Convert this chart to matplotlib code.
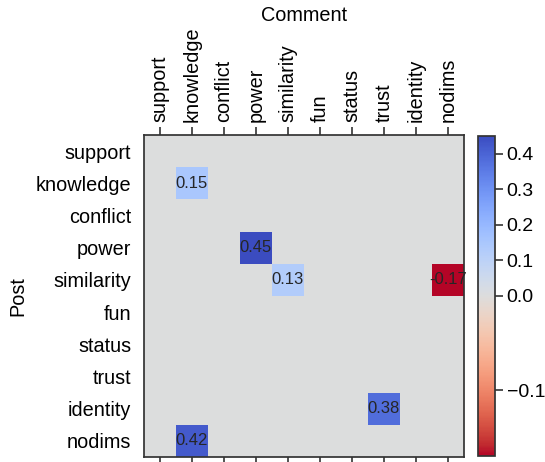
import numpy as np
import matplotlib
matplotlib.use("Agg")
import matplotlib.pyplot as plt
from matplotlib.colors import TwoSlopeNorm

plt.rcParams['font.family'] = ['Liberation Sans', 'DejaVu Sans']

comment_labels = ["support", "knowledge", "conflict", "power", "similarity",
                  "fun", "status", "trust", "identity", "nodims"]
post_labels = ["support", "knowledge", "conflict", "power", "similarity",
               "fun", "status", "trust", "identity", "nodims"]

# nonzero entries (post, comment, value)
entry_post = ["knowledge", "power", "similarity", "similarity", "identity", "nodims"]
entry_comment = ["knowledge", "power", "similarity", "nodims", "trust", "knowledge"]
entry_value = [0.15, 0.45, 0.13, -0.17, 0.38, 0.42]

vmin, vmax = -0.17, 0.45

data = np.zeros((len(post_labels), len(comment_labels)))
for p, c, v in zip(entry_post, entry_comment, entry_value):
    data[post_labels.index(p), comment_labels.index(c)] = v

fig = plt.figure(figsize=(5.45, 4.62), dpi=100)
ax = fig.add_axes([0.264, 0.011, 0.587, 0.697])
cax = fig.add_axes([0.877, 0.013, 0.032, 0.693])

norm = TwoSlopeNorm(vmin=vmin, vcenter=0.0, vmax=vmax)
mesh = ax.pcolormesh(data, cmap="coolwarm_r", norm=norm)
ax.set_xlim(0, len(comment_labels))
ax.set_ylim(len(post_labels), 0)

for p, c, v in zip(entry_post, entry_comment, entry_value):
    i = post_labels.index(p)
    j = comment_labels.index(c)
    ax.text(j + 0.5, i + 0.5, f"{v:.2f}", ha="center", va="center",
            fontsize=12, color="#262626")

fs = 14.3
ax.set_xticks(np.arange(len(comment_labels)) + 0.5)
ax.set_yticks(np.arange(len(post_labels)) + 0.5)
ax.set_xticklabels(comment_labels, rotation=90, fontsize=fs)
ax.set_yticklabels(post_labels, fontsize=fs)
ax.tick_params(axis="x", top=True, bottom=True, labeltop=True, labelbottom=False,
               length=6, width=1.2, color="#333333", pad=3)
ax.tick_params(axis="y", left=False, length=0, pad=9)
ax.xaxis.set_label_position("top")
ax.set_xlabel("Comment", fontsize=fs, labelpad=4)
ax.set_ylabel("Post", fontsize=fs, labelpad=6)
for s in ax.spines.values():
    s.set_linewidth(1.25)
    s.set_color("#333333")

cb = fig.colorbar(mesh, cax=cax)
cb.set_ticks([-0.1, 0.0, 0.1, 0.2, 0.3, 0.4])
cb.ax.tick_params(labelsize=14, length=6, width=1.2, color="#333333", pad=2)
cb.outline.set_linewidth(1.25)
cb.outline.set_edgecolor("#333333")

fig.savefig("out.png", dpi=100)
